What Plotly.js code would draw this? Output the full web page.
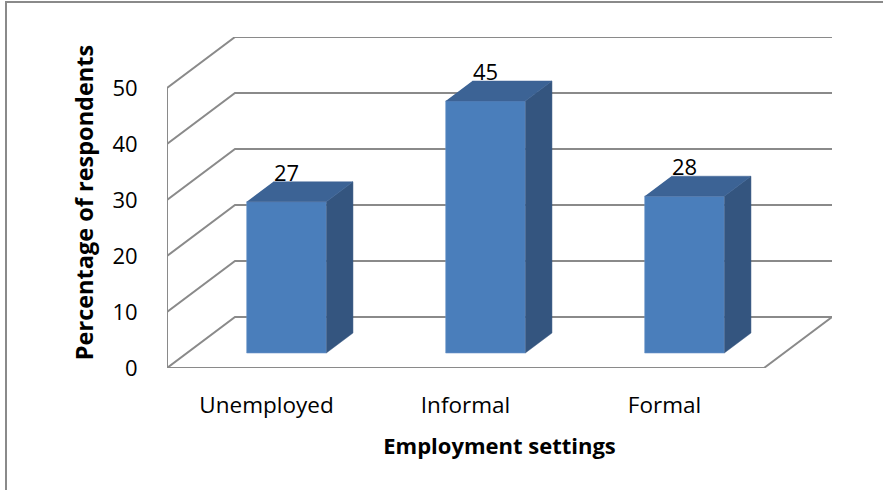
<!DOCTYPE html>
<html>
<head>
<meta charset="utf-8">
<script src="https://cdn.plot.ly/plotly-3.0.1.min.js"></script>
<style>
  html, body { margin: 0; padding: 0; background: #ffffff; }
  #wrap { position: relative; width: 883px; height: 490px; overflow: hidden; }
  #chart { position: absolute; left: 0; top: 0; width: 883px; height: 490px; }
  #frame { position: absolute; left: 5px; top: 1px; width: 1000px; height: 1000px;
           border-left: 2px solid #8a8a8a; border-top: 2px solid #8a8a8a; pointer-events: none; }
</style>
</head>
<body>
<div id="wrap">
  <div id="chart"></div>
  <div id="frame"></div>
</div>
<script>
// ---- data ----
const categories = ['Unemployed', 'Informal', 'Formal'];
const values = [27, 45, 28];
const valueLabels = ['27', '45', '28'];
const yTickValues = [0, 10, 20, 30, 40, 50];
const yTickLabels = ['0', '10', '20', '30', '40', '50'];
const xTitle = 'Employment settings';
const yTitle = 'Percentage of respondents';

// ---- oblique 3D geometry (in axis units) ----
const PX_PER_CAT = 199;          // px per category on front plane
const DEPTH_PX_X = 68, DEPTH_PX_Y = 51;
const PLOT_L = 167, PLOT_R = 51, PLOT_T = 37, PLOT_B = 122;
const PLOT_H = 490 - PLOT_T - PLOT_B;
const yMax = yTickValues[yTickValues.length - 1];
const PX_PER_UNIT = (PLOT_H - DEPTH_PX_Y) / yMax;
const DX = DEPTH_PX_X / PX_PER_CAT;       // depth shift in x units
const DY = DEPTH_PX_Y / PX_PER_UNIT;      // depth shift in y units
const D1 = 0.294, D2 = 0.686;              // bar front / back depth fractions
const HALF = 0.2;                           // half bar width
const nCat = categories.length;
const xLo = -0.5, xHi = nCat - 0.5;
const xRange = [xLo, xHi + DX], yRange = [0, yMax + DY];

// grid / walls
const gx = [], gy = [];
yTickValues.forEach(v => {
  gx.push(xLo, xLo + DX, xHi + DX, null);
  gy.push(v, v + DY, v + DY, null);
});
gx.push(xLo, xLo, null);  gy.push(0, yMax, null);
gx.push(xLo, xHi, xHi + DX, null); gy.push(0, 0, DY, null);

// bar faces
const sideX = [], sideY = [], topX = [], topY = [];
const frontX = [], frontBase = [];
const labX = [], labY = [];
values.forEach((v, i) => {
  const xl = i - HALF, xr = i + HALF;
  const x1 = D1 * DX, y1 = D1 * DY, x2 = D2 * DX, y2 = D2 * DY;
  sideX.push(xr + x1, xr + x2, xr + x2, xr + x1, null);
  sideY.push(y1, y2, v + y2, v + y1, null);
  topX.push(xl + x1, xr + x1, xr + x2, xl + x2, null);
  topY.push(v + y1, v + y1, v + y2, v + y2, null);
  frontX.push(i + x1);
  frontBase.push(y1);
  labX.push(i + x1);
  labY.push(v + y2 + 1.2);
});

const traces = [
  // walls & gridlines on the base subplot (drawn first, behind)
  { type: 'scatter', mode: 'lines', x: gx, y: gy, line: { color: '#8a8a8a', width: 2 },
    hoverinfo: 'skip', showlegend: false },
  // bars on an overlaid subplot with identical ranges (drawn on top)
  { type: 'bar', x: frontX, y: values, base: frontBase, width: 2 * HALF, xaxis: 'x2', yaxis: 'y2',
    marker: { color: '#4a7ebb', line: { color: '#6d96c9', width: 0.6 } },
    hoverinfo: 'skip', showlegend: false },
  { type: 'scatter', mode: 'lines', x: sideX, y: sideY, fill: 'toself', fillcolor: '#34557f',
    xaxis: 'x2', yaxis: 'y2',
    line: { color: '#34557f', width: 0.5 }, hoverinfo: 'skip', showlegend: false },
  { type: 'scatter', mode: 'lines', x: topX, y: topY, fill: 'toself', fillcolor: '#3c6395',
    xaxis: 'x2', yaxis: 'y2',
    line: { color: '#3c6395', width: 0.5 }, hoverinfo: 'skip', showlegend: false },
  { type: 'scatter', mode: 'text', x: labX, y: labY, text: valueLabels, xaxis: 'x2', yaxis: 'y2',
    textposition: 'middle center', textfont: { family: 'Open Sans, sans-serif', size: 22, color: '#000' },
    cliponaxis: false, hoverinfo: 'skip', showlegend: false }
];

const layout = {
  width: 883, height: 490,
  margin: { l: PLOT_L, r: PLOT_R, t: PLOT_T, b: PLOT_B, pad: 0 },
  paper_bgcolor: 'rgba(0,0,0,0)', plot_bgcolor: 'rgba(0,0,0,0)',
  font: { family: 'Open Sans, sans-serif', size: 22, color: '#000' },
  showlegend: false,
  bargap: 0,
  xaxis: {
    range: xRange, tickvals: categories.map((c, i) => i), ticktext: categories,
    showgrid: false, zeroline: false, showline: false,
    ticks: 'outside', ticklen: 17, tickcolor: 'rgba(0,0,0,0)',
    tickfont: { size: 22.5 }, fixedrange: true,
    title: { text: '<b>' + xTitle + '</b>', font: { size: 22 }, standoff: 19 }
  },
  yaxis: {
    range: yRange, tickvals: yTickValues, ticktext: yTickLabels,
    showgrid: false, zeroline: false, showline: false,
    ticks: 'outside', ticklen: 24, tickcolor: 'rgba(0,0,0,0)',
    tickfont: { size: 22 }, fixedrange: true,
    title: { text: '<b>' + yTitle + '</b>', font: { size: 23.5 }, standoff: 12 }
  },
  xaxis2: { overlaying: 'x', range: xRange, visible: false, fixedrange: true },
  yaxis2: { overlaying: 'y', range: yRange, visible: false, fixedrange: true }
};

Plotly.newPlot('chart', traces, layout, { displayModeBar: false, staticPlot: true });
</script>
</body>
</html>
